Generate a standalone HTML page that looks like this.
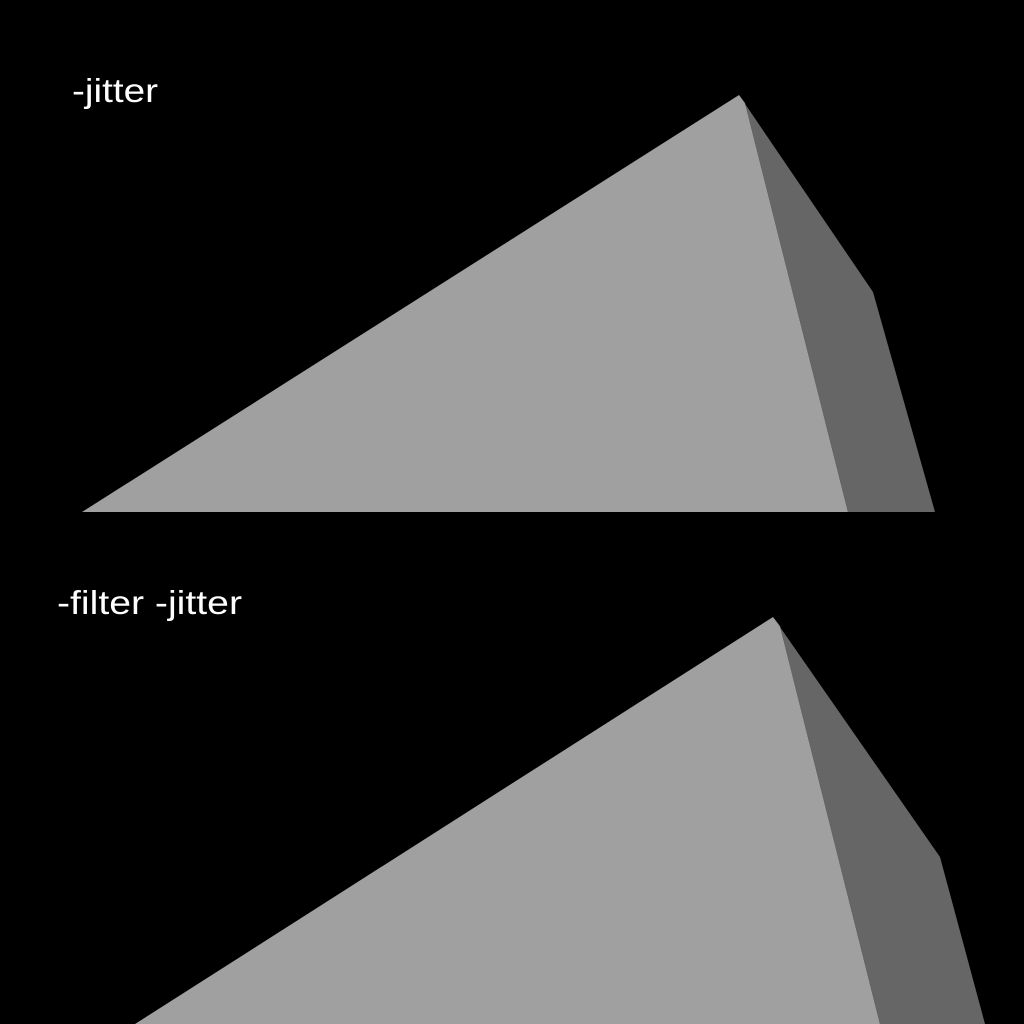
<!DOCTYPE html>
<html><head><meta charset="utf-8"><style>
html,body{margin:0;padding:0;background:#000;}
svg{display:block;}
</style></head><body>
<svg width="1024" height="1024" viewBox="0 0 1024 1024">
<rect x="0" y="0" width="1024" height="1024" fill="#000"/>
<g>
<text x="72" y="102" fill="#fff" font-family="Liberation Sans, sans-serif" font-size="33" textLength="86" lengthAdjust="spacingAndGlyphs">-jitter</text>
<polygon points="82,512 739,95 745,103 848,512" fill="#a0a0a0"/>
<polygon points="739,95 873,292 935,512 848,512 745,103" fill="#666666"/>
</g>
<g>
<text x="57" y="614" fill="#fff" font-family="Liberation Sans, sans-serif" font-size="33" textLength="185" lengthAdjust="spacingAndGlyphs">-filter -jitter</text>
<polygon points="135,1024 773,617 780,626 880,1024" fill="#a0a0a0"/>
<polygon points="773,617 940,857 985,1024 880,1024 780,626" fill="#666666"/>
</g>
</svg>
</body></html>
